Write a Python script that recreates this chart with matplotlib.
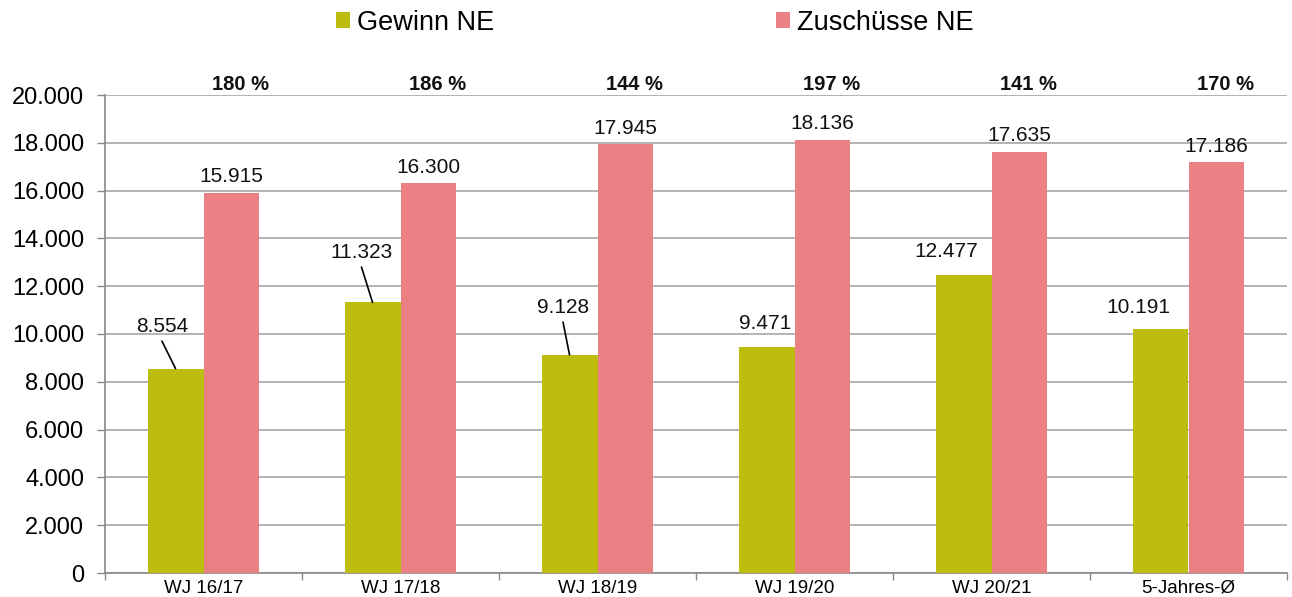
import matplotlib
matplotlib.use("Agg")
import matplotlib.pyplot as plt
import numpy as np

plt.rcParams['font.family'] = ['Liberation Sans', 'DejaVu Sans']

# ---- data ----
categories = ["WJ 16/17", "WJ 17/18", "WJ 18/19", "WJ 19/20", "WJ 20/21", "5-Jahres-Ø"]
gewinn = [8554, 11323, 9128, 9471, 12477, 10191]
zuschuesse = [15915, 16300, 17945, 18136, 17635, 17186]
prozent = ["180 %", "186 %", "144 %", "197 %", "141 %", "170 %"]
series_names = ["Gewinn NE", "Zuschüsse NE"]

# label placement for the green bars (x shift in category units, baseline value, leader line?)
g_dx = [-0.069, -0.056, -0.033, -0.008, -0.089, -0.114]
g_base = [10084, 13180, 10879, 10209, 13222, 10879]
g_leader = [True, True, True, False, False, False]

GREEN = "#BDBD10"
PINK = "#EA7F84"
GRID = "#A6A6A6"

def fmt(v):
    return f"{v:,}".replace(",", ".")

W, H = 1292, 597
fig = plt.figure(figsize=(W / 100, H / 100), dpi=100)
ax = fig.add_axes([105 / W, (H - 573) / H, 1182 / W, 478 / H])

x = np.arange(len(categories))
bw = 0.284
b1 = ax.bar(x - bw / 2, gewinn, bw, color=GREEN, label=series_names[0], zorder=3)
b2 = ax.bar(x + bw / 2, zuschuesse, bw, color=PINK, label=series_names[1], zorder=3)

ax.set_xlim(-0.5, len(categories) - 0.5)
ax.set_ylim(0, 20000)
ax.set_yticks(np.arange(0, 20001, 2000))
ax.set_yticklabels([fmt(v) for v in range(0, 20001, 2000)])
ax.yaxis.grid(True, color=GRID, linewidth=1.2, zorder=0)
ax.set_axisbelow(True)

ax.set_xticks(x)
ax.set_xticklabels(categories)
ax.set_xticks(np.arange(-0.5, len(categories)), minor=True)
ax.tick_params(axis='x', which='major', length=0, pad=5, labelsize=13.5)
ax.tick_params(axis='x', which='minor', length=5, color="#888888", width=1)
ax.tick_params(axis='y', length=6, color="#888888", width=1, pad=9, labelsize=17)

for s in ['top', 'right']:
    ax.spines[s].set_visible(False)
for s in ['left', 'bottom']:
    ax.spines[s].set_color("#888888")
    ax.spines[s].set_linewidth(1.2)

# pink value labels
for xi, v in zip(x, zuschuesse):
    ax.annotate(fmt(v), (xi + bw / 2, v), xytext=(0, 7.5), textcoords='offset points',
                ha='center', va='baseline', fontsize=15, color="#111111")

# green value labels with leader lines
for xi, v, dx, base, lead in zip(x, gewinn, g_dx, g_base, g_leader):
    lx = xi - bw / 2 + dx
    ax.text(lx, base, fmt(v), ha='center', va='baseline', fontsize=15, color="#111111")
    if lead:
        ax.annotate("", xy=(xi - bw / 2, v), xytext=(lx, base - 380),
                    arrowprops=dict(arrowstyle='-', color='black', lw=1.2, shrinkA=0, shrinkB=0))

# percent labels
for xi, p in zip(x, prozent):
    ax.text(xi + 0.188, 20209, p, ha='center', va='baseline', fontsize=14.5,
            fontweight='bold', color="#111111", clip_on=False)

fig.legend(handles=[b1, b2], labels=series_names, loc='center left',
           bbox_to_anchor=(336 / W, 1 - 23 / H), ncol=2, frameon=False,
           fontsize=19.5, handlelength=0.53, handleheight=0.53, handletextpad=0.25,
           columnspacing=10.4, borderpad=0, borderaxespad=0)

fig.savefig("out.png", dpi=100)
